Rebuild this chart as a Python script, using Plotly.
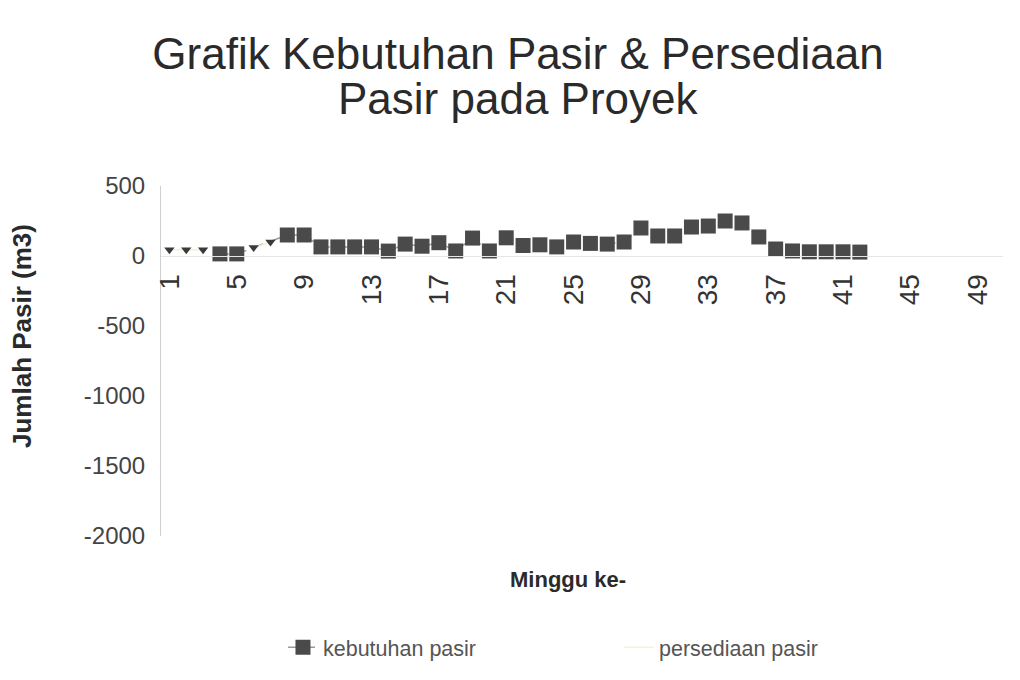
import plotly.graph_objects as go

weeks = list(range(1, 51))
tick_weeks = [1, 5, 9, 13, 17, 21, 25, 29, 33, 37, 41, 45, 49]
tick_labels = [str(w) for w in tick_weeks]

kebutuhan_pasir = [None, None, None, 15, 15, None, None, 150, 150, 65,
                   65, 65, 65, 35, 85, 70, 95, 36, 128, 36,
                   130, 75, 80, 65, 100, 90, 85, 100, 200, 143,
                   143, 207, 214, 250, 236, 136, 50, 36, 30, 30,
                   30, 28, None, None, None, None, None, None, None, None]
persediaan_pasir = [45, 45, 45, None, None, 60, 100] + [None] * 43

y_ticks = [500, 0, -500, -1000, -1500, -2000]
y_tick_labels = ["500", "0", "-500", "-1000", "-1500", "-2000"]

fig = go.Figure()
fig.add_trace(go.Scatter(
    x=weeks, y=kebutuhan_pasir, name="kebutuhan pasir", mode="lines+markers",
    line=dict(color="#9a9a9a", width=1.5, dash="dash"),
    marker=dict(symbol="square", size=15, color="#4a4a4a"),
    connectgaps=True,
))
fig.add_trace(go.Scatter(
    x=weeks, y=persediaan_pasir, name="persediaan pasir", mode="lines+markers",
    line=dict(color="#f4f0cc", width=1.5),
    marker=dict(symbol="triangle-down", size=9, color="#3a3a3a"),
    showlegend=False, legendgroup="p",
))
fig.add_trace(go.Scatter(
    x=[None], y=[None], name="persediaan pasir", mode="lines",
    line=dict(color="#f6f3dc", width=1.5), legendgroup="p",
))

L, T, B, R = 153, 178, 152, 25
H = 680 - T - B
W = 1020 - L - R

fig.update_layout(
    width=1020, height=680,
    paper_bgcolor="white", plot_bgcolor="white",
    margin=dict(l=L, r=R, t=T, b=B),
    font=dict(family="Liberation Sans, Arial, sans-serif", color="#333"),
    title=dict(text="Grafik Kebutuhan Pasir & Persediaan",
               x=510 / 1020, xref="container", xanchor="center",
               y=1 - 46 / 680, yref="container", yanchor="middle",
               font=dict(size=44, color="#2a2a2a")),
    xaxis=dict(range=[0.5, 50.5], tickmode="array", tickvals=tick_weeks, ticktext=tick_labels,
               tickangle=-90, anchor="free", position=0.8, showgrid=False, zeroline=False,
               showline=True, linecolor="#e6e6e6", ticks="", ticklabelstandoff=6,
               tickfont=dict(size=28, color="#333")),
    yaxis=dict(range=[-2000, 500], tickvals=y_ticks, ticktext=y_tick_labels,
               showgrid=False, zeroline=False,
               showline=True, linecolor="#cfcfcf", ticks="", ticklabelstandoff=10,
               tickfont=dict(size=24, color="#444")),
    legend=dict(orientation="h", xref="container", yref="container",
                x=0.599, xanchor="center", y=0.060, yanchor="middle",
                font=dict(size=21.5, color="#555"), entrywidth=291, entrywidthmode="pixels"),
    annotations=[
        dict(text="Pasir pada Proyek", xref="paper", yref="paper",
             x=(510 - L) / W, y=(680 - B - 91) / H, xanchor="center", yanchor="middle",
             showarrow=False, font=dict(size=44, color="#2a2a2a")),
        dict(text="<b>Jumlah Pasir (m3)</b>", xref="paper", yref="paper",
             x=(14 - L) / W, y=(680 - B - 328) / H, xanchor="center", yanchor="middle",
             textangle=-90, showarrow=False, font=dict(size=26, color="#2a2a2a")),
        dict(text="<b>Minggu ke-</b>", xref="paper", yref="paper",
             x=(560 - L) / W, y=(680 - B - 571) / H, xanchor="center", yanchor="middle",
             showarrow=False, font=dict(size=22, color="#2a2a2a")),
    ],
)

fig.write_html("out.html")
